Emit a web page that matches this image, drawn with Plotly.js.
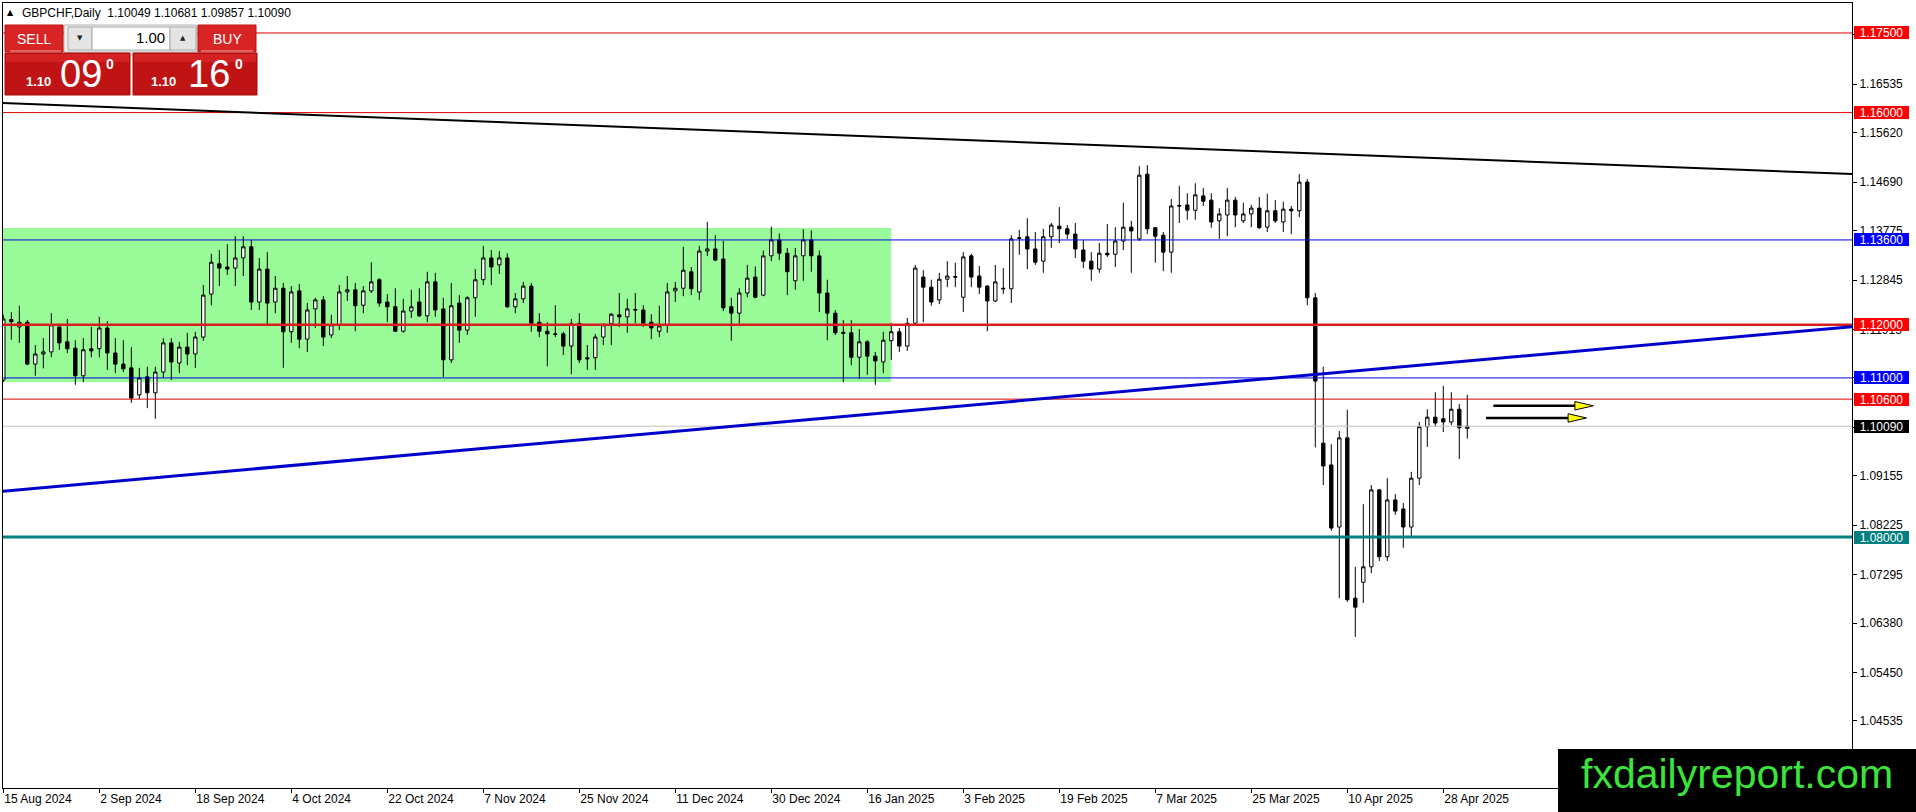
<!DOCTYPE html>
<html>
<head>
<meta charset="utf-8">
<script src="https://cdn.plot.ly/plotly-3.0.1.min.js"></script>
<style>
html, body { margin: 0; padding: 0; background: #fff; }
#chart { width: 1916px; height: 812px; }
</style>
</head>
<body>
<div id="chart"></div>
<script>
// GBPCHF daily candles, 15 Aug 2024 .. 1 May 2025 (one bar per trading day)

var open = [
  1.1096,1.1210,1.1196,1.1205,1.1126,1.1145,1.1149,1.1196,1.1168,1.1156,
  1.1104,1.1155,1.1155,1.1194,1.1147,1.1126,1.1119,1.1068,1.1102,1.1072,
  1.1111,1.1166,1.1128,1.1158,1.1145,1.1177,1.1258,1.1315,1.1309,1.1307,
  1.1326,1.1347,1.1243,1.1305,1.1243,1.1269,1.1187,1.1264,1.1173,1.1230,
  1.1247,1.1181,1.1200,1.1262,1.1266,1.1237,1.1264,1.1285,1.1243,1.1234,
  1.1188,1.1226,1.1243,1.1217,1.1281,1.1230,1.1134,1.1241,1.1190,1.1251,
  1.1285,1.1326,1.1313,1.1326,1.1234,1.1249,1.1273,1.1205,1.1188,1.1183,
  1.1183,1.1160,1.1203,1.1138,1.1138,1.1177,1.1202,1.1219,1.1215,1.1229,
  1.1228,1.1205,1.1188,1.1200,1.1264,1.1269,1.1300,1.1262,1.1339,1.1343,
  1.1324,1.1234,1.1222,1.1260,1.1290,1.1256,1.1330,1.1360,1.1335,1.1283,
  1.1330,1.1360,1.1330,1.1260,1.1222,1.1186,1.1185,1.1139,1.1168,1.1141,
  1.1130,1.1170,1.1187,1.1160,1.1203,1.1290,1.1271,1.1247,1.1286,1.1291,
  1.1252,1.1330,1.1292,1.1273,1.1245,1.1269,1.1268,1.1364,1.1366,1.1343,
  1.1320,1.1366,1.1386,1.1381,1.1371,1.1341,1.1320,1.1305,1.1335,1.1333,
  1.1358,1.1384,1.1362,1.1484,1.1383,1.1369,1.1337,1.1425,1.1426,1.1416,
  1.1443,1.1435,1.1396,1.1407,1.1435,1.1396,1.1409,1.1420,1.1384,1.1415,
  1.1394,1.1418,1.1415,1.1469,1.1251,1.0977,1.0936,1.0819,1.0987,1.0685,
  1.0715,1.0744,1.0889,1.0763,1.0870,1.0853,1.0819,1.0911,1.1008,1.1026,
  1.1023,1.1017,1.1041,1.10049
];

var high = [
  1.1219,1.1224,1.1236,1.1209,1.1162,1.1175,1.1222,1.1202,1.1211,1.1171,
  1.1175,1.1196,1.1215,1.1207,1.1175,1.1171,1.1158,1.1119,1.1121,1.1121,
  1.1175,1.1175,1.1168,1.1185,1.1187,1.1275,1.1334,1.1341,1.1352,1.1367,
  1.1367,1.1360,1.1326,1.1337,1.1292,1.1279,1.1273,1.1277,1.1241,1.1251,
  1.1254,1.1219,1.1275,1.1292,1.1279,1.1273,1.1318,1.1288,1.1258,1.1269,
  1.1249,1.1266,1.1269,1.1300,1.1298,1.1251,1.1279,1.1256,1.1254,1.1305,
  1.1349,1.1341,1.1339,1.1335,1.1260,1.1281,1.1279,1.1222,1.1205,1.1237,
  1.1187,1.1211,1.1222,1.1162,1.1183,1.1203,1.1222,1.1260,1.1249,1.1260,
  1.1237,1.1220,1.1236,1.1279,1.1281,1.1347,1.1309,1.1349,1.1394,1.1369,
  1.1358,1.1251,1.1269,1.1313,1.1310,1.1340,1.1385,1.1372,1.1345,1.1345,
  1.1380,1.1378,1.1340,1.1285,1.1228,1.1209,1.1209,1.1192,1.1171,1.1149,
  1.1187,1.1203,1.1194,1.1213,1.1313,1.1303,1.1285,1.1298,1.1320,1.1317,
  1.1337,1.1334,1.1311,1.1275,1.1313,1.1307,1.1369,1.1379,1.1401,1.1375,
  1.1381,1.1392,1.1422,1.1388,1.1392,1.1360,1.1337,1.1354,1.1390,1.1384,
  1.1430,1.1396,1.1499,1.1501,1.1384,1.1375,1.1437,1.1462,1.1448,1.1467,
  1.1458,1.1448,1.1420,1.1458,1.1441,1.1430,1.1426,1.1441,1.1447,1.1435,
  1.1432,1.1424,1.1484,1.1475,1.1260,1.1121,1.0975,1.1000,1.1040,1.0744,
  1.0862,1.0898,1.0891,1.0911,1.0881,1.0864,1.0923,1.1017,1.1041,1.1073,
  1.1085,1.1073,1.1051,1.10681
];

var low = [
  1.1092,1.1172,1.1166,1.1124,1.1104,1.1118,1.1139,1.1153,1.1147,1.1087,
  1.1092,1.1139,1.1139,1.1115,1.1109,1.1111,1.1053,1.1060,1.1043,1.1023,
  1.1100,1.1096,1.1109,1.1124,1.1119,1.1170,1.1237,1.1273,1.1294,1.1273,
  1.1292,1.1228,1.1228,1.1198,1.1222,1.1119,1.1166,1.1156,1.1149,1.1194,
  1.1160,1.1175,1.1190,1.1245,1.1188,1.1222,1.1260,1.1234,1.1205,1.1187,
  1.1185,1.1213,1.1215,1.1205,1.1215,1.1102,1.1128,1.1166,1.1181,1.1215,
  1.1275,1.1275,1.1296,1.1232,1.1222,1.1241,1.1187,1.1177,1.1122,1.1177,
  1.1143,1.1107,1.1128,1.1115,1.1115,1.1162,1.1162,1.1196,1.1185,1.1203,
  1.1196,1.1173,1.1177,1.1185,1.1243,1.1254,1.1256,1.1247,1.1330,1.1320,
  1.1226,1.1170,1.1202,1.1252,1.1250,1.1254,1.1320,1.1322,1.1256,1.1266,
  1.1283,1.1300,1.1224,1.1171,1.1181,1.1092,1.1124,1.1098,1.1106,1.1087,
  1.1109,1.1134,1.1149,1.1151,1.1200,1.1205,1.1236,1.1239,1.1271,1.1271,
  1.1224,1.1271,1.1258,1.1188,1.1243,1.1258,1.1241,1.1332,1.1305,1.1313,
  1.1298,1.1345,1.1354,1.1362,1.1326,1.1307,1.1283,1.1298,1.1328,1.1309,
  1.1341,1.1298,1.1358,1.1371,1.1317,1.1301,1.1298,1.1392,1.1398,1.1398,
  1.1424,1.1383,1.1362,1.1367,1.1384,1.1392,1.1384,1.1381,1.1375,1.1392,
  1.1375,1.1371,1.1403,1.1237,1.0969,1.0898,1.0812,1.0685,1.0678,1.0612,
  1.0676,1.0732,1.0755,1.0755,1.0842,1.0780,1.0800,1.0898,1.0970,1.1008,
  1.0998,1.1011,1.0947,1.09857
];

var close = [
  1.1211,1.1206,1.1205,1.1126,1.1145,1.1149,1.1200,1.1166,1.1155,1.1104,
  1.1153,1.1151,1.1194,1.1147,1.1126,1.1117,1.1062,1.1100,1.1072,1.1111,
  1.1166,1.1130,1.1158,1.1145,1.1177,1.1256,1.1318,1.1307,1.1305,1.1326,
  1.1347,1.1243,1.1305,1.1241,1.1269,1.1187,1.1262,1.1173,1.1228,1.1247,
  1.1177,1.1200,1.1262,1.1266,1.1236,1.1264,1.1281,1.1241,1.1234,1.1188,
  1.1226,1.1234,1.1217,1.1281,1.1228,1.1134,1.1236,1.1190,1.1251,1.1285,
  1.1326,1.1309,1.1326,1.1234,1.1249,1.1273,1.1203,1.1188,1.1183,1.1182,
  1.1160,1.1202,1.1134,1.1136,1.1177,1.1200,1.1220,1.1215,1.1230,1.1228,
  1.1203,1.1194,1.1198,1.1262,1.1269,1.1303,1.1268,1.1339,1.1343,1.1322,
  1.1232,1.1222,1.1260,1.1288,1.1252,1.1330,1.1360,1.1335,1.1300,1.1330,
  1.1360,1.1330,1.1260,1.1222,1.1185,1.1184,1.1139,1.1168,1.1141,1.1132,
  1.1171,1.1187,1.1160,1.1203,1.1307,1.1271,1.1243,1.1286,1.1292,1.1290,
  1.1328,1.1290,1.1271,1.1245,1.1281,1.1268,1.1362,1.1363,1.1343,1.1318,
  1.1366,1.1388,1.1381,1.1371,1.1343,1.1320,1.1305,1.1335,1.1332,1.1358,
  1.1384,1.1377,1.1482,1.1381,1.1367,1.1337,1.1424,1.1424,1.1416,1.1445,
  1.1433,1.1394,1.1409,1.1435,1.1407,1.1409,1.1420,1.1383,1.1415,1.1396,
  1.1418,1.1415,1.1469,1.1251,1.1094,1.0934,1.0817,1.0987,1.0682,1.0668,
  1.0744,1.0889,1.0763,1.0870,1.0849,1.0819,1.0911,1.1008,1.1026,1.1015,
  1.1017,1.1041,1.1006,1.10090
];

// one date label every 12 bars
var dateLabels = [
  "15 Aug 2024", "2 Sep 2024", "18 Sep 2024", "4 Oct 2024", "22 Oct 2024",
  "7 Nov 2024", "25 Nov 2024", "11 Dec 2024", "30 Dec 2024", "16 Jan 2025",
  "3 Feb 2025", "19 Feb 2025", "7 Mar 2025", "25 Mar 2025", "10 Apr 2025",
  "28 Apr 2025"
];
var labelEvery = 12;

// price scale ticks as the terminal printed them
var priceTicks = [1.04535, 1.05450, 1.06380, 1.07295, 1.08225, 1.09155, 1.10070,
  1.11000, 1.11915, 1.12845, 1.13775, 1.14690, 1.15620, 1.16535, 1.17465];

// horizontal levels
var levelPrices = [1.17500, 1.16000, 1.13600, 1.12000, 1.11000, 1.10600, 1.08000];
var levelKinds  = ["red", "red", "blue", "redBold", "blue", "red", "teal"];
var bidPrice = 1.10090;

// range box (bar index / price)
var boxBars = [-1, 111];
var boxPrices = [1.10923, 1.13825];

// trend lines, [bar, price] ends
var downTrend = [[-0.41, 1.16181], [231.1, 1.14843]];
var upTrend   = [[-0.41, 1.08860], [231.1, 1.11965]];

// the two projection arrows: [from bar, to bar, price]
var arrows = [[186.25, 198.75, 1.10475], [185.34, 197.9, 1.10245]];

var header = ["GBPCHF,Daily", "1.10049", "1.10681", "1.09857", "1.10090"];

// ---- page geometry
var W = 1916, H = 812, ML = 3, MR = 64, MT = 3, MB = 24;
var PW = W - ML - MR, PH = H - MT - MB;
function px(x) { return (x - ML) / PW; }
function py(y) { return (H - MB - y) / PH; }

var FONT = "Liberation Sans, Arial, sans-serif";

var styles = {
  red:     {color: "#e00000", width: 1},
  redBold: {color: "#d81e1e", width: 2.5},
  blue:    {color: "#0000e0", width: 1},
  teal:    {color: "#008080", width: 3}
};
var labelBg = {red: "#ff0000", redBold: "#ff0000", blue: "#0000ff", teal: "#008080"};

var idx = open.map(function(v, i) { return i; });

var trace = {
  type: "candlestick",
  x: idx, open: open, high: high, low: low, close: close,
  increasing: {line: {color: "#000", width: 1}, fillcolor: "#fff"},
  decreasing: {line: {color: "#000", width: 1}, fillcolor: "#000"},
  whiskerwidth: 0,
  hoverinfo: "skip",
  showlegend: false
};

function rect(x0, y0, x1, y1, fill, line) {
  return {type: "rect", xref: "paper", yref: "paper", layer: "above",
    x0: px(x0), x1: px(x1), y0: py(y0), y1: py(y1),
    fillcolor: fill, line: {color: line || fill, width: line ? 1 : 0}};
}
function label(x, y, text, size, color, family, anchor) {
  return {xref: "paper", yref: "paper", x: px(x), y: py(y), text: text,
    showarrow: false, xanchor: anchor || "left", yanchor: "middle",
    font: {family: family || FONT, size: size, color: color}, borderpad: 0};
}

var shapes = [];

// range box behind the candles
shapes.push({type: "rect", xref: "x", yref: "y", layer: "below",
  x0: boxBars[0], x1: boxBars[1], y0: boxPrices[0], y1: boxPrices[1],
  fillcolor: "#98fb98", line: {width: 0}});

// horizontal levels
levelPrices.forEach(function(p, i) {
  var s = styles[levelKinds[i]];
  shapes.push({type: "line", xref: "paper", yref: "y", layer: "above",
    x0: 0, x1: 1, y0: p, y1: p, line: {color: s.color, width: s.width}});
});
// bid line
shapes.push({type: "line", xref: "paper", yref: "y", layer: "above",
  x0: 0, x1: 1, y0: bidPrice, y1: bidPrice, line: {color: "#c0c0c0", width: 1}});

// trend lines
shapes.push({type: "line", xref: "x", yref: "y", layer: "above",
  x0: downTrend[0][0], y0: downTrend[0][1], x1: downTrend[1][0], y1: downTrend[1][1],
  line: {color: "#000", width: 2}});
shapes.push({type: "line", xref: "x", yref: "y", layer: "above",
  x0: upTrend[0][0], y0: upTrend[0][1], x1: upTrend[1][0], y1: upTrend[1][1],
  line: {color: "#0000cd", width: 3}});

// arrows
var headLen = 2.3, headHalf = 0.0008;
arrows.forEach(function(a) {
  var hx = a[1] - headLen;
  shapes.push({type: "line", xref: "x", yref: "y", layer: "above",
    x0: a[0], x1: hx + 0.3, y0: a[2], y1: a[2], line: {color: "#000", width: 2.5}});
  shapes.push({type: "path", xref: "x", yref: "y", layer: "above",
    path: "M " + hx + " " + (a[2] + headHalf) + " L " + a[1] + " " + a[2] +
          " L " + hx + " " + (a[2] - headHalf) + " Z",
    fillcolor: "#ffff00", line: {color: "#000", width: 1}});
});

// one-click trading panel
var RED = "#d82424", RED_DARK = "#c01414";
shapes.push(rect(64, 25, 197, 52, "#efefef", "#b4b4b4"));
shapes.push(rect(5, 25, 63, 52, RED, "#c01010"));
shapes.push(rect(198, 25, 256, 52, RED, "#c01010"));
shapes.push(rect(68, 27, 92, 50, "#e4e4e4", "#a8a8a8"));
shapes.push(rect(92, 27, 170, 50, "#ffffff", "#a8a8a8"));
shapes.push(rect(170, 27, 196, 50, "#e4e4e4", "#a8a8a8"));
shapes.push({type: "line", xref: "paper", yref: "paper", layer: "above",
  x0: px(10), x1: px(61), y0: py(51), y1: py(51), line: {color: "#f0a0a0", width: 1}});
shapes.push({type: "line", xref: "paper", yref: "paper", layer: "above",
  x0: px(201), x1: px(253), y0: py(51), y1: py(51), line: {color: "#f0a0a0", width: 1}});
shapes.push(rect(5, 53, 130, 95, RED_DARK, "#a80a0a"));
shapes.push(rect(133, 53, 257, 95, RED_DARK, "#a80a0a"));
shapes.push(rect(6, 54, 129, 62, "#d42222"));
shapes.push(rect(134, 54, 256, 62, "#d42222"));

// watermark box
shapes.push(rect(1558, 749, 1920, 816, "#000000"));

var annotations = [];

// header line
annotations.push(label(6, 13, "\u25B2", 8, "#000", "DejaVu Sans"));
annotations.push(label(21, 13, header[0] + "\u00a0\u00a0" + header.slice(1).join(" "), 12, "#000"));

// panel texts
annotations.push(label(34, 39, "SELL", 14, "#fff", FONT, "center"));
annotations.push(label(227, 39, "BUY", 14, "#fff", FONT, "center"));
annotations.push(label(80, 38, "\u25BC", 7, "#222", "DejaVu Sans", "center"));
annotations.push(label(183, 38, "\u25B2", 7, "#222", "DejaVu Sans", "center"));
annotations.push(label(166, 38, "1.00", 15, "#000", FONT, "right"));
annotations.push(label(25, 82, "<b>1.10</b>", 13, "#fff", FONT));
annotations.push(label(59, 74, "09", 38, "#fff", FONT));
annotations.push(label(105, 64, "<b>0</b>", 14, "#fff", FONT));
annotations.push(label(150, 82, "<b>1.10</b>", 13, "#fff", FONT));
annotations.push(label(187, 74, "16", 38, "#fff", FONT));
annotations.push(label(234, 64, "<b>0</b>", 14, "#fff", FONT));

// price labels on the scale
function priceTag(p, bg) {
  return {xref: "paper", yref: "y", x: px(1854), y: p, xanchor: "left", yanchor: "middle",
    text: p.toFixed(5), showarrow: false, bgcolor: bg, width: 55, height: 13,
    align: "center", borderpad: 0, borderwidth: 0,
    font: {family: FONT, size: 12, color: "#fff"}};
}
levelPrices.forEach(function(p, i) { annotations.push(priceTag(p, labelBg[levelKinds[i]])); });
annotations.push(priceTag(bidPrice, "#000000"));

// watermark
annotations.push(label(1737, 774, "fxdailyreport.com", 41, "#3be33b", FONT, "center"));

var tickVals = dateLabels.map(function(d, i) { return i * labelEvery; });

var layout = {
  width: W, height: H,
  margin: {l: ML, r: MR, t: MT, b: MB, pad: 0},
  paper_bgcolor: "#fff", plot_bgcolor: "#fff",
  font: {family: FONT, size: 12, color: "#000"},
  showlegend: false,
  hovermode: false,
  dragmode: false,
  boxgap: 0.4,
  xaxis: {
    type: "linear",
    range: [-0.04, 231.09],
    rangeslider: {visible: false},
    showgrid: false, zeroline: false,
    showline: true, mirror: true, linecolor: "#000", linewidth: 1,
    ticks: "outside", ticklen: 4, tickcolor: "#000",
    tickvals: tickVals, ticktext: dateLabels,
    ticklabelposition: "outside right",
    tickfont: {family: FONT, size: 12, color: "#000"}
  },
  yaxis: {
    side: "right",
    range: [1.03272, 1.18065],
    showgrid: false, zeroline: false,
    showline: true, mirror: true, linecolor: "#000", linewidth: 1,
    ticks: "outside", ticklen: 4, tickcolor: "#000",
    tickvals: priceTicks, tickformat: ".5f",
    tickfont: {family: FONT, size: 12, color: "#000"}
  },
  shapes: shapes,
  annotations: annotations
};

Plotly.newPlot("chart", [trace], layout, {displayModeBar: false, staticPlot: true});
</script>
</body>
</html>
